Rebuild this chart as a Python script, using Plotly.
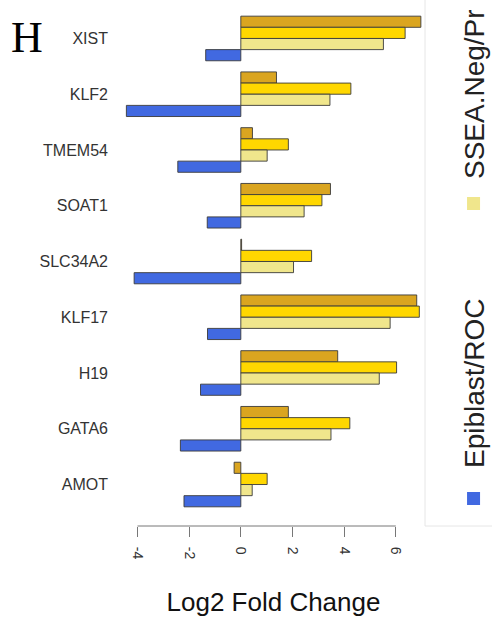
import plotly.graph_objects as go

genes = ["XIST", "KLF2", "TMEM54", "SOAT1", "SLC34A2", "KLF17", "H19", "GATA6", "AMOT"]
series_dark = [6.97, 1.38, 0.45, 3.47, 0.03, 6.81, 3.75, 1.84, -0.26]
series_gold = [6.36, 4.26, 1.84, 3.14, 2.74, 6.91, 6.03, 4.22, 1.02]
series_khaki = [5.52, 3.45, 1.02, 2.45, 2.04, 5.78, 5.36, 3.49, 0.44]
series_blue = [-1.36, -4.43, -2.44, -1.30, -4.13, -1.29, -1.56, -2.34, -2.20]
x_ticks = [-4, -2, 0, 2, 4, 6]
legend_names = ["Epiblast/ROC", "SSEA.Neg/Pr"]

W, H = 492, 617
ML, MR, MT, MB = 122.3, 67, 0, 91
PW = W - ML - MR
PH = H - MT - MB


def px(xp):
    return (xp - ML) / PW


def py(yp):
    return (H - MB - yp) / PH


fig = go.Figure()
specs = [
    ("Series 1", series_dark, "#DAA520"),
    ("Series 2", series_gold, "#FFD700"),
    (legend_names[1], series_khaki, "#F0E68C"),
    (legend_names[0], series_blue, "#4169E1"),
]
for name, vals, col in specs:
    fig.add_trace(go.Bar(
        y=genes, x=vals, orientation="h", name=name,
        marker=dict(color=col, line=dict(color="#3a3a3a", width=0.9)),
        showlegend=False,
    ))

fig.update_layout(
    width=W, height=H,
    margin=dict(l=ML, r=MR, t=MT, b=MB),
    paper_bgcolor="white", plot_bgcolor="white",
    barmode="group", bargap=0.2, bargroupgap=0,
    font=dict(family="Liberation Sans, Arial, sans-serif", color="#333"),
    xaxis=dict(
        range=[-4.6, 7.13], tickvals=x_ticks, ticktext=[str(v) for v in x_ticks],
        ticks="outside", ticklen=10, tickcolor="#777", tickwidth=1,
        tickangle=90, tickfont=dict(size=14, color="#333"),
        showgrid=False, zeroline=False, showline=False,
        ticklabelstandoff=7,
        title=dict(text="Log2 Fold Change", font=dict(size=26, color="#111"), standoff=34),
    ),
    yaxis=dict(
        range=[8.744, -0.69], ticks="", showgrid=False, zeroline=False, showline=False,
        tickfont=dict(size=16, color="#333"), ticklabelstandoff=13,
    ),
)

# axis line spanning the tick range
fig.add_shape(type="line", xref="x", yref="paper", x0=x_ticks[0], x1=x_ticks[-1], y0=0, y1=0,
              line=dict(color="#777", width=1))

# legend box
fig.add_shape(type="rect", xref="paper", yref="paper", x0=px(425), x1=px(520), y0=py(526), y1=py(-20),
              line=dict(color="#e6e6e6", width=1), fillcolor="rgba(0,0,0,0)")
# legend keys
fig.add_shape(type="rect", xref="paper", yref="paper", x0=px(467), x1=px(480), y0=py(505), y1=py(492),
              line=dict(width=0), fillcolor="#4169E1")
fig.add_shape(type="rect", xref="paper", yref="paper", x0=px(467), x1=px(480), y0=py(210), y1=py(197),
              line=dict(width=0), fillcolor="#F0E68C")
fig.add_annotation(xref="paper", yref="paper", x=px(474), y=py(470), text=legend_names[0],
                   textangle=-90, showarrow=False, xanchor="center", yanchor="bottom",
                   font=dict(size=28, color="#222"))
fig.add_annotation(xref="paper", yref="paper", x=px(474), y=py(181), text=legend_names[1],
                   textangle=-90, showarrow=False, xanchor="center", yanchor="bottom",
                   font=dict(size=28, color="#222"))

# panel letter
fig.add_annotation(xref="paper", yref="paper", x=px(27), y=py(38), text="H", showarrow=False,
                   xanchor="center", yanchor="middle",
                   font=dict(size=44, color="black", family="Liberation Serif, Times New Roman, serif"))

fig.write_html("out.html")
